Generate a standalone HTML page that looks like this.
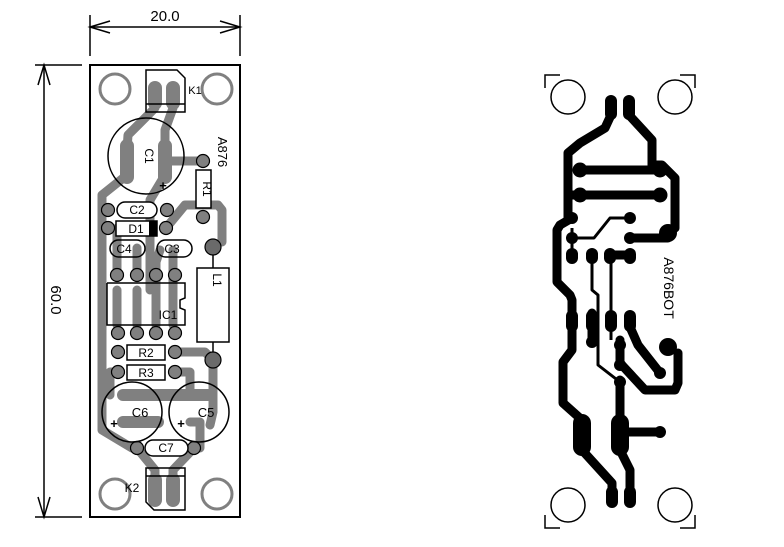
<!DOCTYPE html>
<html><head><meta charset="utf-8"><style>
html,body{margin:0;padding:0;background:#fff;}
svg{display:block;font-family:"Liberation Sans",sans-serif;}
</style></head><body>
<svg width="784" height="547" viewBox="0 0 784 547" xmlns="http://www.w3.org/2000/svg">
<g stroke="#000" stroke-width="1.5" fill="none">
<line x1="90" y1="15" x2="90" y2="56"/><line x1="240" y1="15" x2="240" y2="56"/>
<line x1="90" y1="27" x2="240" y2="27"/>
<polyline points="110,21 90,27 110,33"/><polyline points="220,21 240,27 220,33"/>
<line x1="35" y1="65" x2="82" y2="65"/><line x1="35" y1="517" x2="82" y2="517"/>
<line x1="44" y1="65" x2="44" y2="517"/>
<polyline points="38,85 44,65 50,85"/><polyline points="38,497 44,517 50,497"/>
</g>
<text x="165" y="21" font-size="15" text-anchor="middle">20.0</text>
<text transform="translate(51,300) rotate(90)" font-size="15" text-anchor="middle">60.0</text>

<rect x="90" y="65" width="150" height="452" fill="none" stroke="#000" stroke-width="2"/>
<g fill="none" stroke="#808080" stroke-width="3">
<circle cx="115" cy="89" r="15"/><circle cx="217" cy="89" r="15"/>
<circle cx="115" cy="494" r="15"/><circle cx="217" cy="494" r="15"/>
</g>
<g fill="none" stroke="#808080" stroke-width="9" stroke-linejoin="round" stroke-linecap="round">
<polyline points="155,108 128,135 127,150"/>
<polyline points="127,175 102,195 102,430 132,448"/>
<polyline points="173,108 165,130 165,150"/>
<line x1="165" y1="161" x2="203" y2="161"/>
<polyline points="165,175 150,200 150,290"/>
<polyline points="117,228 117,275"/><polyline points="137,248 137,275"/>
<polyline points="166,228 185,205 218,205 222,210 222,242"/>
<polyline points="173,250 173,290"/><polyline points="160,250 156,262 156,290"/>
<polyline points="117,290 117,325"/><polyline points="137,290 137,325"/><polyline points="156,290 156,325"/><polyline points="173,290 173,325"/>
<polyline points="175,352 205,352 213,360 213,412 210,425"/>
<polyline points="118,372 110,372 110,395"/>
<polyline points="190,422 200,422 200,448"/>
<polyline points="137,448 155,470 155,500"/>
<polyline points="194,448 173,470 173,500"/>
<polyline points="175,372 190,372 190,395"/>
</g>
<g fill="none" stroke="#808080" stroke-width="12" stroke-linecap="round">
<line x1="123" y1="395" x2="208" y2="395"/>
<line x1="123" y1="422" x2="158" y2="422"/>
</g>
<g fill="none" stroke="#808080" stroke-width="14" stroke-linecap="round">
<line x1="127" y1="146" x2="127" y2="177"/><line x1="165" y1="146" x2="165" y2="177"/>
<line x1="155" y1="88" x2="155" y2="103"/><line x1="173" y1="88" x2="173" y2="103"/>
<line x1="155" y1="480" x2="155" y2="500"/><line x1="173" y1="480" x2="173" y2="500"/>
</g>
<g fill="#808080" stroke="#000" stroke-width="1.2">
<circle cx="203" cy="161" r="6.5"/><circle cx="203" cy="217" r="6.5"/>
<circle cx="108" cy="210" r="6.5"/><circle cx="167" cy="210" r="6.5"/>
<circle cx="108" cy="228" r="6.5"/><circle cx="166" cy="228" r="6.5"/>
<circle cx="213" cy="247" r="8" fill="#6a6a6a"/><circle cx="213" cy="360" r="8" fill="#6a6a6a"/>
<circle cx="117" cy="275" r="6.5"/><circle cx="137" cy="275" r="6.5"/><circle cx="156" cy="275" r="6.5"/><circle cx="175" cy="275" r="6.5"/>
<circle cx="118" cy="333" r="6.5"/><circle cx="137" cy="333" r="6.5"/><circle cx="156" cy="333" r="6.5"/><circle cx="175" cy="333" r="6.5"/>
<circle cx="118" cy="352" r="6.5"/><circle cx="175" cy="352" r="6.5"/>
<circle cx="118" cy="372" r="6.5"/><circle cx="175" cy="372" r="6.5"/>
<circle cx="137" cy="448" r="6.5"/><circle cx="194" cy="448" r="6.5"/>
</g>
<g fill="none" stroke="#000" stroke-width="1.5">
<polygon points="146,70 177,70 185,78 185,112 146,112"/>
<line x1="146" y1="104" x2="185" y2="104"/>
<polygon points="146,468 185,468 185,510 154,510 146,502"/>
<line x1="146" y1="476" x2="185" y2="476"/>
<circle cx="146" cy="156" r="38"/>
<rect x="196" y="170" width="15" height="38" fill="#fff"/>
<rect x="117" y="202" width="40" height="16" rx="8" fill="#fff"/>
<rect x="116" y="221" width="41" height="15" fill="#fff"/>
<rect x="110" y="240" width="35" height="17" rx="8.5"/>
<rect x="157" y="240" width="35" height="17" rx="8.5"/>
<rect x="197" y="268" width="32" height="74" fill="#fff"/>
<polyline points="107,283 185,283 185,298 180,300 180,308 185,310 185,325 107,325 107,283"/>
<rect x="127" y="345" width="38" height="15" fill="#fff"/>
<rect x="127" y="365" width="38" height="15" fill="#fff"/>
<circle cx="132" cy="412" r="30"/><circle cx="199" cy="412" r="30"/>
<rect x="145" y="440" width="43" height="16" rx="8" fill="#fff"/>
</g>
<rect x="149" y="221" width="8" height="15" fill="#000"/>
<line x1="213" y1="255" x2="213" y2="268" stroke="#000" stroke-width="1.5"/>
<line x1="213" y1="342" x2="213" y2="352" stroke="#000" stroke-width="1.5"/>
<g font-size="12" text-anchor="middle" fill="#000">
<text x="195" y="94" font-size="11">K1</text><text x="132" y="492">K2</text>
<text transform="translate(145,156) rotate(90)">C1</text>
<text transform="translate(203,189) rotate(90)">R1</text>
<text transform="translate(213,280) rotate(90)">L1</text>
<text x="137" y="214">C2</text><text x="136" y="233">D1</text>
<text x="124" y="253">C4</text><text x="172" y="253">C3</text>
<text x="168" y="319">IC1</text>
<text x="146" y="357">R2</text><text x="146" y="377">R3</text>
<text x="140" y="417" font-size="13">C6</text><text x="206" y="417" font-size="13">C5</text>
<text x="166" y="452">C7</text>
<text x="163" y="190" font-size="13" font-weight="bold">+</text>
<text x="114" y="428" font-size="13" font-weight="bold">+</text>
<text x="181" y="428" font-size="13" font-weight="bold">+</text>
</g>
<text transform="translate(218,152) rotate(90)" font-size="13" text-anchor="middle">A876</text>

<g fill="none" stroke="#000" stroke-width="1.5">
<polyline points="545,88 545,75 560,75"/><polyline points="680,75 695,75 695,88"/>
<polyline points="545,515 545,528 560,528"/><polyline points="680,528 695,528 695,515"/>
<circle cx="568" cy="97" r="17"/><circle cx="675" cy="97" r="17"/>
<circle cx="568" cy="505" r="17"/><circle cx="675" cy="505" r="17"/>
</g>
<g fill="none" stroke="#000" stroke-width="9" stroke-linejoin="round" stroke-linecap="round">
<polyline points="611,115 605,128 580,143 568,153 568,218"/>
<polyline points="629,115 652,140 652,165"/>
<line x1="580" y1="170" x2="660" y2="170"/>
<line x1="568" y1="195" x2="660" y2="195"/>
<polyline points="652,165 662,165 675,178 675,228 668,233"/>
<polyline points="668,238 630,238"/>
<polyline points="572,218 560,225 557,230 557,282 570,295 572,300 572,350 563,362 563,403 582,420"/>
<polyline points="582,450 612,483 612,503"/>
<polyline points="620,380 620,450 630,470 630,503"/>
<line x1="620" y1="432" x2="660" y2="432"/>
<polyline points="610,255 630,255"/>
<polyline points="620,340 620,363 645,390 675,390 678,383 678,353"/>
<polyline points="630,327 638,345 660,373"/>
<polyline points="592,313 592,340"/>
</g>
<g fill="none" stroke="#000" stroke-width="3" stroke-linejoin="round">
<polyline points="572,238 594,238 610,218 631,218"/>
<line x1="572" y1="228" x2="572" y2="255"/>
<polyline points="592,255 592,290 598,295 598,365 620,382"/>
<polyline points="611,255 611,340"/>
</g>
<g fill="#000">
<rect x="605" y="95" width="12" height="25" rx="6"/><rect x="623" y="95" width="12" height="25" rx="6"/>
<rect x="606" y="486" width="12" height="22" rx="6"/><rect x="624" y="486" width="12" height="22" rx="6"/>
<circle cx="580" cy="170" r="7.5"/><circle cx="660" cy="170" r="7.5"/>
<circle cx="580" cy="195" r="7.5"/><circle cx="660" cy="195" r="7.5"/>
<circle cx="668" cy="233" r="9"/><circle cx="668" cy="347" r="9"/>
<circle cx="572" cy="218" r="6"/><circle cx="630" cy="218" r="6"/>
<circle cx="572" cy="238" r="6"/><circle cx="630" cy="238" r="6"/>
<rect x="566" y="248" width="12" height="16" rx="6"/><rect x="586" y="248" width="12" height="16" rx="6"/>
<rect x="604" y="248" width="12" height="16" rx="6"/><rect x="624" y="248" width="12" height="16" rx="6"/>
<rect x="566" y="310" width="12" height="22" rx="6"/><rect x="586" y="310" width="12" height="22" rx="6"/>
<rect x="605" y="310" width="12" height="22" rx="6"/><rect x="624" y="310" width="12" height="22" rx="6"/>
<circle cx="592" cy="342" r="6"/><circle cx="620" cy="345" r="6"/><circle cx="620" cy="365" r="6"/>
<circle cx="660" cy="373" r="6"/><circle cx="620" cy="382" r="6"/>
<rect x="573" y="414" width="18" height="42" rx="9"/><rect x="611" y="414" width="18" height="42" rx="9"/>
<circle cx="660" cy="432" r="6"/>
</g>
<text transform="translate(664,288) rotate(90)" font-size="14" text-anchor="middle">A876BOT</text>
</svg>
</body></html>
